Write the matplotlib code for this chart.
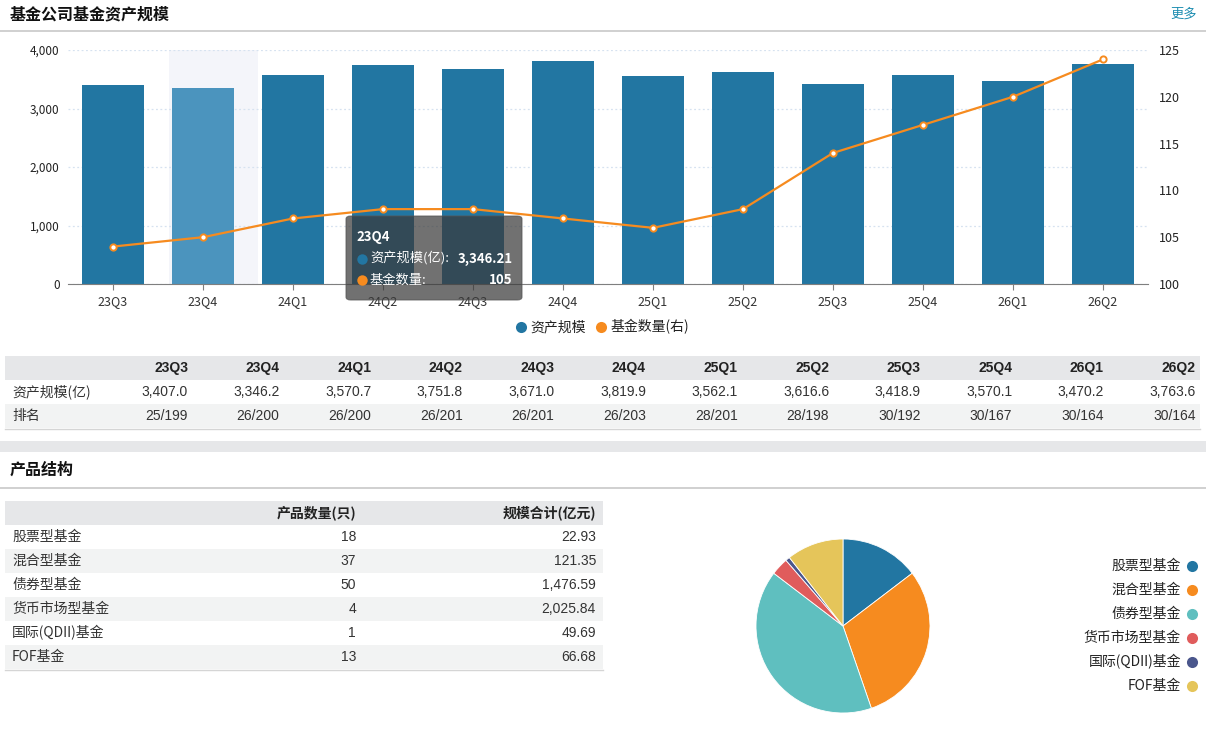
import numpy as np
import matplotlib
matplotlib.use('Agg')
import matplotlib.pyplot as plt
from matplotlib.patches import Rectangle, FancyBboxPatch
from matplotlib.lines import Line2D

plt.rcParams['font.family'] = ['Noto Sans CJK SC', 'DejaVu Sans']

# ==================== 数据 ====================
quarters = ['23Q3', '23Q4', '24Q1', '24Q2', '24Q3', '24Q4',
            '25Q1', '25Q2', '25Q3', '25Q4', '26Q1', '26Q2']
assets = [3407.0, 3346.2, 3570.7, 3751.8, 3671.0, 3819.9,
          3562.1, 3616.6, 3418.9, 3570.1, 3470.2, 3763.6]
ranks = ['25/199', '26/200', '26/200', '26/201', '26/201', '26/203',
         '28/201', '28/198', '30/192', '30/167', '30/164', '30/164']
fund_counts = [104, 105, 107, 108, 108, 107, 106, 108, 114, 117, 120, 124]

tip_idx = 1
tip_asset = 3346.21

categories = ['股票型基金', '混合型基金', '债券型基金', '货币市场型基金', '国际(QDII)基金', 'FOF基金']
product_counts = [18, 37, 50, 4, 1, 13]
product_scales = [22.93, 121.35, 1476.59, 2025.84, 49.69, 66.68]

# ==================== 样式 ====================
BLUE = '#2276a2'
BLUE_HI = '#4b94be'
ORANGE = '#f68b1f'
pie_colors = ['#2276a2', '#f68b1f', '#5fbfbf', '#e05c5c', '#4a568c', '#e5c55a']
HEAD_BG = '#e6e7e9'
ROW_BG = '#f2f3f3'
NUM_FONT = ['Liberation Sans', 'Noto Sans CJK SC']
FS = 10

W, H = 1206, 748
fig = plt.figure(figsize=(W / 100, H / 100), dpi=100)


def fx(x):
    return x / W


def fy(y):
    return 1 - y / H


def rect(x0, y0, x1, y1, color):
    fig.add_artist(Rectangle((fx(x0), fy(y1)), fx(x1 - x0), (y1 - y0) / H,
                             transform=fig.transFigure, color=color, lw=0, zorder=0))


def hline(x0, x1, y, color, lw=1):
    fig.add_artist(Line2D([fx(x0), fx(x1)], [fy(y), fy(y)], transform=fig.transFigure,
                          color=color, lw=lw))


def dot(x, y, color, size=7, z=5):
    fig.add_artist(Line2D([fx(x)], [fy(y)], transform=fig.transFigure, marker='o',
                          markersize=size, color=color, markeredgewidth=0, zorder=z))


# ==================== 标题栏 ====================
fig.text(fx(10), fy(14), '基金公司基金资产规模', fontsize=11.5, fontweight='bold',
         va='center', ha='left', color='#111111')
fig.text(fx(1197), fy(14), '更多', fontsize=9.5, va='center', ha='right', color='#1a8cb0')
hline(0, W, 31, '#c8c8c8', 1.2)

# ==================== 柱状图 + 折线 ====================
ax = fig.add_axes([fx(68), fy(284), fx(1080), 234 / H])
x = np.arange(len(quarters))
# 悬停阴影(略向右偏)
ax.axvspan(tip_idx - 0.38, tip_idx + 0.61, color='#f4f5fa', zorder=0, lw=0)
bar_colors = [BLUE_HI if i == tip_idx else BLUE for i in x]
ax.bar(x, assets, width=0.69, color=bar_colors, zorder=2)
ax.set_xlim(-0.5, len(quarters) - 0.5)
ax.set_ylim(0, 4000)
ax.set_yticks([0, 1000, 2000, 3000, 4000])
ax.set_yticklabels(['0', '1,000', '2,000', '3,000', '4,000'])
ax.set_xticks(x)
ax.set_xticklabels(quarters)
ax.grid(axis='y', color='#d6e2f0', linestyle=(0, (1.5, 2)), lw=0.9, zorder=1)
ax.set_axisbelow(True)
for s in ['top', 'left', 'right']:
    ax.spines[s].set_visible(False)
ax.spines['bottom'].set_color('#7f7f7f')
ax.tick_params(axis='y', length=0, labelsize=8.5, colors='#222222', pad=6)
ax.tick_params(axis='x', length=4, color='#7f7f7f', labelsize=9, labelcolor='#333333', pad=4)

ax2 = ax.twinx()
ax2.plot(x, fund_counts, color=ORANGE, lw=1.6, marker='o', markersize=4.5,
         markerfacecolor='white', markeredgecolor=ORANGE, markeredgewidth=1.4, zorder=3)
ax2.set_ylim(100, 125)
ax2.set_yticks([100, 105, 110, 115, 120, 125])
for s in ['top', 'left', 'right', 'bottom']:
    ax2.spines[s].set_visible(False)
ax2.tick_params(axis='y', length=0, labelsize=9, colors='#222222', pad=8)

# 提示框
fig.add_artist(FancyBboxPatch((fx(346), fy(300)), fx(176), 84 / H,
                              boxstyle='round,pad=0,rounding_size=0.004',
                              transform=fig.transFigure, facecolor='#3a3a3a', alpha=0.72,
                              edgecolor='#555555', lw=0.8, zorder=6))
fig.text(fx(356), fy(237), quarters[tip_idx], color='white', fontsize=9.5,
         fontweight='bold', va='center', zorder=7)
dot(362, 259, BLUE, 7.5, z=8)
fig.text(fx(370), fy(259), '资产规模(亿):', color='white', fontsize=9.5, va='center', zorder=7)
fig.text(fx(513), fy(259), f'{tip_asset:,.2f}', color='white', fontsize=9.5,
         fontweight='bold', va='center', ha='right', zorder=7)
dot(362, 280, ORANGE, 7.5, z=8)
fig.text(fx(370), fy(280), '基金数量:', color='white', fontsize=9.5, va='center', zorder=7)
fig.text(fx(513), fy(280), f'{fund_counts[tip_idx]}', color='white', fontsize=9.5,
         fontweight='bold', va='center', ha='right', zorder=7)

# 图例
dot(521, 327, BLUE, 8)
fig.text(fx(530), fy(327), '资产规模', fontsize=FS, va='center', color='#222222')
dot(601, 327, ORANGE, 8)
fig.text(fx(611), fy(327), '基金数量(右)', fontsize=FS, va='center', color='#222222')

# ==================== 资产规模表 ====================
rect(5, 356, 1200, 380, HEAD_BG)
rect(5, 404, 1200, 428, ROW_BG)
hline(5, 1200, 428.5, '#d5d5d5', 1)
col_right = [188 + 91.6 * i for i in range(len(quarters))]
for i, q in enumerate(quarters):
    fig.text(fx(col_right[i]), fy(368), q, fontsize=FS, fontweight='bold',
             ha='right', va='center', color='#222222', family=NUM_FONT)
    fig.text(fx(col_right[i]), fy(392), f'{assets[i]:,.1f}', fontsize=FS,
             ha='right', va='center', color='#333333', family=NUM_FONT)
    fig.text(fx(col_right[i]), fy(416), ranks[i], fontsize=FS,
             ha='right', va='center', color='#333333', family=NUM_FONT)
fig.text(fx(12), fy(392), '资产规模(亿)', fontsize=FS, va='center', color='#333333')
fig.text(fx(12), fy(416), '排名', fontsize=FS, va='center', color='#333333')

# 分隔带
rect(0, 441, W, 452, HEAD_BG)

# ==================== 产品结构 ====================
fig.text(fx(10), fy(470), '产品结构', fontsize=11.5, fontweight='bold',
         va='center', ha='left', color='#111111')
hline(0, W, 488, '#c8c8c8', 1.2)

rect(5, 501, 603, 525, HEAD_BG)
fig.text(fx(356), fy(513), '产品数量(只)', fontsize=FS, fontweight='bold',
         ha='right', va='center', color='#222222')
fig.text(fx(596), fy(513), '规模合计(亿元)', fontsize=FS, fontweight='bold',
         ha='right', va='center', color='#222222')
for i, cat in enumerate(categories):
    yc = 537 + 24 * i
    if i % 2 == 1:
        rect(5, yc - 12, 603, yc + 12, ROW_BG)
    fig.text(fx(12), fy(yc), cat, fontsize=FS, va='center', color='#333333')
    fig.text(fx(356), fy(yc), str(product_counts[i]), fontsize=FS, ha='right',
             va='center', color='#333333', family=NUM_FONT)
    fig.text(fx(596), fy(yc), f'{product_scales[i]:,.2f}', fontsize=FS, ha='right',
             va='center', color='#333333', family=NUM_FONT)
hline(5, 603, 669.5, '#d5d5d5', 1)

# 饼图
r = 87
axp = fig.add_axes([fx(843 - r), fy(626 + r), 2 * r / W, 2 * r / H])
axp.pie(product_counts, colors=pie_colors, startangle=90, counterclock=False,
        wedgeprops=dict(edgecolor='white', linewidth=0.6))
axp.set_xlim(-1, 1)
axp.set_ylim(-1, 1)
axp.set_aspect('equal')
axp.axis('off')

for i, cat in enumerate(categories):
    yc = 566 + 24 * i
    fig.text(fx(1181), fy(yc), cat, fontsize=FS, ha='right', va='center', color='#222222')
    dot(1192, yc, pie_colors[i], 8)

fig.savefig('out.png', dpi=100, facecolor='white')
